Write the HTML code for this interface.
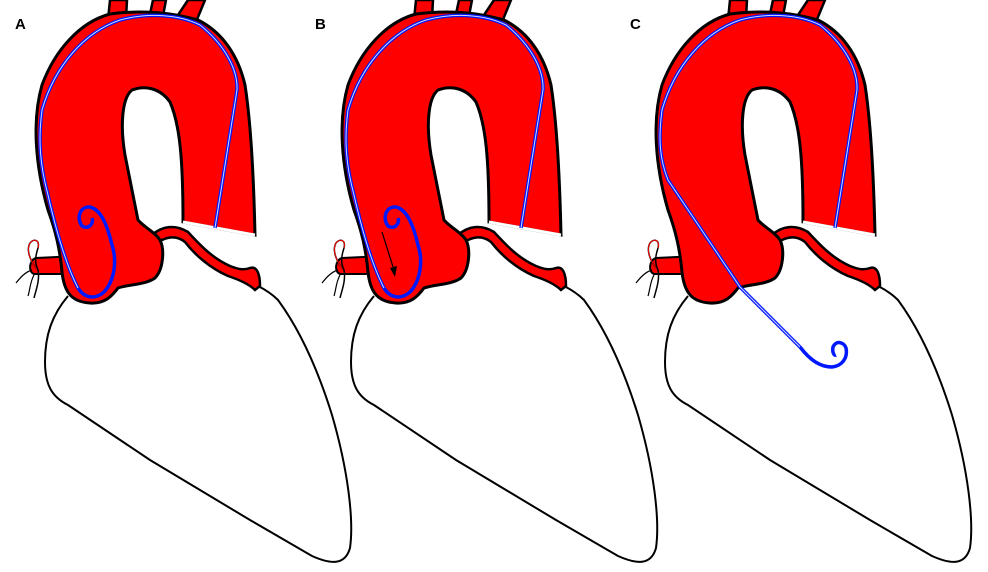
<!DOCTYPE html>
<html><head><meta charset="utf-8"><style>html,body{margin:0;padding:0;background:#fff}svg{display:block}</style></head>
<body>
<svg width="988" height="572" viewBox="0 0 988 572" xmlns="http://www.w3.org/2000/svg">
<defs>
<g id="base">
  <path d="M68,296 C52,315 45,335 45,362 C45,385 52,397 68,405 L150,460 L250,520 L312,556 C330,564 345,566 350,548 C354,520 348,470 332,415 C318,370 300,330 278,300 C272,294 266,290 258,286" fill="#fff" stroke="#000" stroke-width="2"/>
  <path d="M108,20 L110,0 L127,0 L126,18 Z" fill="#f00" stroke="#000" stroke-width="2.5"/>
  <path d="M150,14 L153,0 L166,0 L163,16 Z" fill="#f00" stroke="#000" stroke-width="2.5"/>
  <path d="M176,18 L188,0 L205,0 L196,22 Z" fill="#f00" stroke="#000" stroke-width="2.5"/>
  <path d="M78,256 L36,258 C29,260 28,272 34,274 L78,274 Z" fill="#f00" stroke="#000" stroke-width="2"/>
  <path d="M36,268 C30,260 26,250 30,243 C34,238 40,240 38,248 C36,254 34,262 38,270 C40,280 36,290 34,298" fill="none" stroke="#000" stroke-width="1.5"/>
  <path d="M36,268 C30,260 26,250 30,243 C34,238 40,240 38,248" fill="none" stroke="#f00" stroke-width="1"/>
  <path d="M32,270 C25,272 20,278 16,283 M34,275 C30,282 30,290 28,296" fill="none" stroke="#000" stroke-width="1.2"/>
  <path d="M152,235 C162,226 175,224 188,232 C200,245 212,258 230,266 C240,270 245,270 250,268 C256,266 260,272 260,286 L255,290 C250,285 240,280 228,276 C210,268 195,255 185,242 C175,234 165,238 158,242 Z" fill="#f00" stroke="#000" stroke-width="2.5"/>
  <path d="M110,14 C80,22 55,50 42,85 C32,120 35,165 48,210 C56,232 60,250 62,272 C64,290 70,302 90,303 C105,304 112,296 118,288 C130,284 145,285 155,278 C163,270 165,250 160,240 C155,232 145,228 138,220 C135,205 130,180 125,155 C120,125 122,98 132,90 C145,85 160,88 170,102 C180,125 183,160 183,222 L255,235 C254,190 252,130 245,85 C238,55 222,32 198,20 C170,12 140,10 110,14 Z" fill="#f00" stroke="#000" stroke-width="3"/>
  <path d="M183,222 L255,235" stroke="#fff" stroke-width="3"/>
</g>
</defs>

<g>
  <use href="#base"/>
  <path d="M215,228 L237,90 C238,70 225,45 200,25 C180,15 150,12 120,20 C85,32 55,65 42,110 C38,140 40,165 48,195 C56,230 66,265 78,288 C84,298 95,300 104,292 C115,280 117,260 112,245 C108,228 102,210 90,207 C80,206 76,218 82,226 C88,230 94,224 92,218" fill="none" stroke="#0018ff" stroke-width="3.5"/>
  <path d="M215,228 L237,90 C238,70 225,45 200,25 C180,15 150,12 120,20 C85,32 55,65 42,110 C38,140 40,165 48,195 C56,230 66,265 78,288" fill="none" stroke="#cfd8ff" stroke-width="1"/>
  <text x="15" y="29" font-family="Liberation Sans, sans-serif" font-weight="bold" font-size="15">A</text>
</g>

<g transform="translate(306,0)">
  <use href="#base"/>
  <path d="M215,228 L237,90 C238,70 225,45 200,25 C180,15 150,12 120,20 C85,32 55,65 42,110 C38,140 40,165 48,195 C56,230 66,265 78,288 C84,298 95,300 104,292 C115,280 117,260 112,245 C108,228 102,210 90,207 C80,206 76,218 82,226 C88,230 94,224 92,218" fill="none" stroke="#0018ff" stroke-width="3.5"/>
  <path d="M215,228 L237,90 C238,70 225,45 200,25 C180,15 150,12 120,20 C85,32 55,65 42,110 C38,140 40,165 48,195 C56,230 66,265 78,288" fill="none" stroke="#cfd8ff" stroke-width="1"/>
  <path d="M76,232 L88,270" stroke="#000" stroke-width="1.2"/>
  <path d="M84,268 L89,277 L91,266 Z" fill="#000"/>
  <text x="9" y="29" font-family="Liberation Sans, sans-serif" font-weight="bold" font-size="15">B</text>
</g>

<g transform="translate(620,0)">
  <use href="#base"/>
  <path d="M215,228 L237,90 C238,70 225,45 200,25 C180,15 150,12 120,20 C85,32 55,65 42,110 C38,140 40,160 48,180 L120,287 L180,347 C190,360 200,367 212,367 C222,366 228,358 226,348 C224,342 216,340 213,347 C212,352 214,356 216,355" fill="none" stroke="#0018ff" stroke-width="3.5"/>
  <path d="M215,228 L237,90 C238,70 225,45 200,25 C180,15 150,12 120,20 C85,32 55,65 42,110 C38,140 40,160 48,180 L120,287 L180,347" fill="none" stroke="#cfd8ff" stroke-width="1"/>
  <text x="10" y="29" font-family="Liberation Sans, sans-serif" font-weight="bold" font-size="15">C</text>
</g>
</svg>
</body></html>
